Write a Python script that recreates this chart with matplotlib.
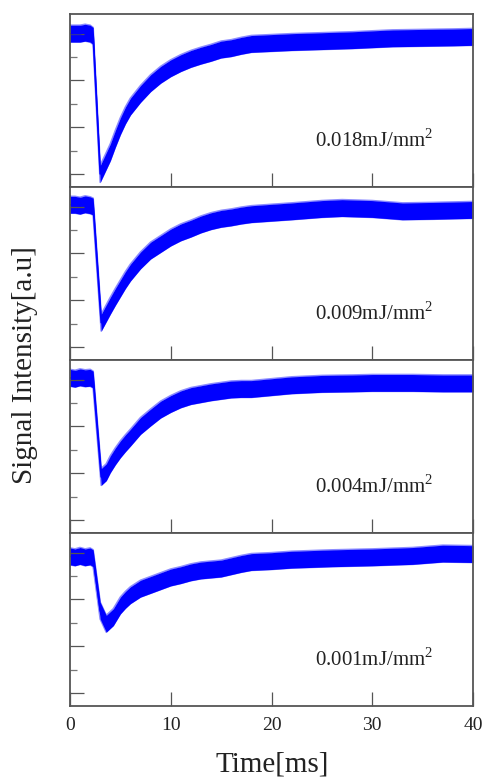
import numpy as np
import matplotlib
matplotlib.use("Agg")
import matplotlib.pyplot as plt
from matplotlib.ticker import MultipleLocator

plt.rcParams['font.family'] = ['Liberation Serif', 'DejaVu Serif']
plt.rcParams['mathtext.fontset'] = 'custom'
plt.rcParams['mathtext.rm'] = 'Liberation Serif'

# fluence labels, top to bottom
labels = ["0.018mJ/mm$^2$", "0.009mJ/mm$^2$", "0.004mJ/mm$^2$", "0.001mJ/mm$^2$"]

# signal (a.u.), time in ms
t_018 = [0, 0.5, 1, 1.5, 2, 2.3, 3.0, 3.5, 4, 4.5, 5, 5.5, 6, 7, 8, 9, 10, 11, 12, 13,
         14, 15, 16, 17, 18, 20, 22, 25, 28, 30, 32, 35, 38, 40]
v_018 = [3.0, 3.0, 3.0, 3.02, 3.0, 2.95, 0.0, 0.23, 0.46, 0.75, 1.02, 1.25, 1.44, 1.71,
         1.94, 2.12, 2.26, 2.37, 2.46, 2.53, 2.59, 2.66, 2.69, 2.74, 2.78, 2.80, 2.82,
         2.84, 2.86, 2.88, 2.90, 2.91, 2.92, 2.93]

t_009 = [0, 0.5, 1, 1.5, 2, 2.3, 3.1, 3.5, 4, 4.5, 5, 5.5, 6, 7, 8, 9, 10, 11, 12, 13,
         14, 15, 16, 17, 18, 20, 22, 25, 27, 30, 33, 36, 40]
v_009 = [3.04, 3.04, 3.02, 3.05, 3.03, 3.0, 0.52, 0.68, 0.88, 1.07, 1.25, 1.43, 1.59,
         1.85, 2.06, 2.2, 2.34, 2.45, 2.53, 2.62, 2.69, 2.74, 2.77, 2.81, 2.84, 2.87,
         2.9, 2.95, 2.97, 2.95, 2.9, 2.91, 2.93]

t_004 = [0, 0.5, 1, 1.5, 2, 2.3, 3.1, 3.6, 4, 4.5, 5, 5.5, 6, 7, 8, 9, 10, 11, 12, 13,
         14, 15, 16, 17, 18, 20, 22, 25, 28, 30, 34, 37, 40]
v_004 = [3.04, 3.02, 3.05, 3.03, 3.04, 3.0, 0.92, 1.02, 1.19, 1.36, 1.51, 1.64, 1.76,
         2.01, 2.19, 2.36, 2.48, 2.58, 2.65, 2.69, 2.73, 2.76, 2.79, 2.8, 2.8, 2.84,
         2.88, 2.91, 2.92, 2.93, 2.93, 2.92, 2.92]

t_001 = [0, 0.5, 1, 1.5, 2, 2.3, 3.0, 3.6, 4.3, 5, 5.5, 6, 7, 8, 9, 10, 11, 12, 13, 14,
         15, 16, 17, 18, 20, 22, 26, 30, 34, 37, 40]
v_001 = [2.92, 2.9, 2.93, 2.9, 2.92, 2.88, 1.76, 1.48, 1.62, 1.87, 1.99, 2.09, 2.23,
         2.31, 2.39, 2.47, 2.52, 2.58, 2.62, 2.64, 2.66, 2.71, 2.76, 2.8, 2.82, 2.85,
         2.88, 2.9, 2.93, 2.98, 2.97]

# half thickness of the noise band
noise = [0.18, 0.18, 0.18, 0.18]

series = [(t_018, v_018), (t_009, v_009), (t_004, v_004), (t_001, v_001)]

fig, axes = plt.subplots(4, 1, sharex=True, figsize=(4.85, 7.78), dpi=100)
fig.subplots_adjust(left=0.1443, right=0.9753, top=0.982, bottom=0.0925, hspace=0)

for ax, (t, v), lab, nz in zip(axes, series, labels, noise):
    t = np.array(t)
    v = np.array(v)
    ax.fill_between(t, v - nz, v + nz, color='#0000ff', lw=0)
    ax.plot(t, v + nz, color='#0000ff', lw=1.2, alpha=0.45)
    ax.plot(t, v - nz, color='#0000ff', lw=1.2, alpha=0.45)
    ax.plot(t, v, color='#0000ff', lw=1.2)
    ax.set_xlim(0, 40)
    ax.set_ylim(-0.28, 3.42)
    ax.xaxis.set_major_locator(MultipleLocator(10))
    ax.yaxis.set_major_locator(MultipleLocator(1))
    ax.yaxis.set_minor_locator(MultipleLocator(0.5))
    ax.tick_params(axis='both', which='major', direction='in', length=10, width=0.9,
                   color='#555555', top=False, right=False, labelsize=14, pad=8)
    ax.tick_params(axis='y', which='minor', direction='in', length=5, width=0.9,
                   color='#777777', right=False)
    ax.tick_params(axis='y', labelleft=False)
    for s in ax.spines.values():
        s.set_color('#555555')
        s.set_linewidth(1.3)
    ax.text(0.755, 0.27, lab, transform=ax.transAxes, ha='center', va='center',
            fontsize=15, color='#222222')

axes[-1].set_xticks([0, 10, 20, 30, 40])
axes[-1].tick_params(axis='x', labelcolor='#222222')

fig.text(272 / 485, 1 - 764 / 778, "Time[ms]", ha='center', va='center',
         fontsize=21, color='#222222')
fig.text(25 / 485, 1 - 365 / 778, "Signal Intensity[a.u]", ha='center', va='center',
         rotation=90, fontsize=21, color='#222222')

fig.savefig("out.png", dpi=100)
